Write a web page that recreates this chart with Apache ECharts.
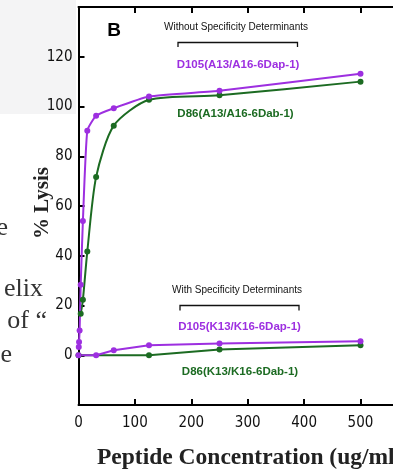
<!DOCTYPE html>
<html><head><meta charset="utf-8">
<script src="https://cdn.jsdelivr.net/npm/echarts@6/dist/echarts.min.js"></script>
<style>html,body{margin:0;padding:0;background:#fff;overflow:hidden}#c{width:393px;height:471px}</style>
</head><body><div id="c"></div>
<script>
// Peptide concentrations (ug/ml) and % lysis values
const concA105 = [0.49, 0.98, 1.95, 3.9, 7.8, 15.6, 31.25, 62.5, 125, 250, 500];
const lysisA105 = [3.3, 5.3, 10, 28.3, 54, 90.3, 96.3, 99.3, 104, 106.3, 113.2];
const concA86 = [3.9, 7.8, 15.6, 31.25, 62.5, 125, 250, 500];
const lysisA86 = [16.7, 22.3, 41.7, 71.7, 92.3, 102.7, 104.5, 110];
const concK105 = [0, 31.25, 62.5, 125, 250, 500];
const lysisK105 = [0, 0, 2, 4, 4.7, 5.6];
const concK86 = [0, 125, 250, 500];
const lysisK86 = [0, 0, 2.3, 4];
const xTicks = [0, 100, 200, 300, 400, 500];
const yTicks = [0, 20, 40, 60, 80, 100, 120];

const purple = '#9d2fe0';
const green = '#1c6b22';
const pairs = (xs, ys) => xs.map((x, i) => [x, ys[i]]);
const tickFont = "'DejaVu Sans Condensed','Liberation Sans Narrow','Liberation Sans',Arial,sans-serif";
const sans = "'Liberation Sans',Arial,sans-serif";
const serif = "'Liberation Serif','Times New Roman',serif";

const chart = echarts.init(document.getElementById('c'), null, {renderer: 'canvas'});
function mkSeries(name, xs, ys, color, smooth) {
  return {
    name, type: 'line', data: pairs(xs, ys), smooth: smooth,
    symbol: 'circle', symbolSize: 6, showSymbol: true,
    lineStyle: {color, width: 2}, itemStyle: {color},
    emphasis: {disabled: true}, animation: false, z: 3
  };
}
const axisCommon = {
  axisLine: {show: true, onZero: false, lineStyle: {color: '#000', width: 2}},
  axisTick: {show: true, inside: true, length: 6, lineStyle: {color: '#000', width: 2}},
  splitLine: {show: false}
};
chart.setOption({
  animation: false,
  grid: {left: 78.5, top: 7, width: 338.4, height: 398, containLabel: false, outerBoundsMode: 'none'},
  xAxis: [
    Object.assign({type: 'value', min: 0, max: 600, interval: 100, position: 'bottom',
      axisLabel: {show: true, margin: 11, color: '#111', fontFamily: tickFont, fontSize: 15,
        formatter: v => xTicks.includes(v) ? String(v) : ''}}, axisCommon),
    Object.assign({type: 'value', min: 0, max: 600, interval: 100, position: 'top',
      axisLabel: {show: false}}, axisCommon)
  ],
  yAxis: Object.assign({type: 'value', min: -20, max: 140, interval: 20,
    axisLabel: {show: true, margin: 6, color: '#111', fontFamily: tickFont, fontSize: 15,
      formatter: v => yTicks.includes(v) ? String(v) : ''}}, axisCommon),
  series: [
    mkSeries('D86(K13/K16-6Dab-1)', concK86, lysisK86, green, false),
    mkSeries('D105(K13/K16-6Dap-1)', concK105, lysisK105, purple, false),
    mkSeries('D86(A13/A16-6Dab-1)', concA86, lysisA86, green, 0.25),
    mkSeries('D105(A13/A16-6Dap-1)', concA105, lysisA105, purple, 0.15)
  ],
  graphic: [
    {type: 'rect', shape: {x: 0, y: 0, width: 76, height: 114}, style: {fill: '#f4f4f5'}, z: -10, silent: true},
    {type: 'text', x: 8, y: 228, style: {text: 'e', font: '26px ' + serif, fill: '#333', align: 'right', verticalAlign: 'middle'}},
    {type: 'text', x: 43, y: 289, style: {text: 'elix', font: '26px ' + serif, fill: '#333', align: 'right', verticalAlign: 'middle'}},
    {type: 'text', x: 47, y: 321, style: {text: 'of \u201c', font: '26px ' + serif, fill: '#333', align: 'right', verticalAlign: 'middle'}},
    {type: 'text', x: 12, y: 355, style: {text: 'e', font: '26px ' + serif, fill: '#333', align: 'right', verticalAlign: 'middle'}},
    {type: 'text', x: 114, y: 31, style: {text: 'B', font: 'bold 19px ' + sans, fill: '#000', align: 'center', verticalAlign: 'middle'}},
    {type: 'text', x: 43, y: 203, rotation: Math.PI / 2, style: {text: '% Lysis', font: 'bold 21px ' + serif, fill: '#222', align: 'center', verticalAlign: 'middle'}},
    {type: 'text', x: 97, y: 458, style: {text: 'Peptide Concentration (ug/ml)', font: 'bold 23.5px ' + serif, fill: '#222', align: 'left', verticalAlign: 'middle'}},
    {type: 'text', x: 236, y: 27, style: {text: 'Without Specificity Determinants', font: '10px ' + sans, fill: '#111', align: 'center', verticalAlign: 'middle'}},
    {type: 'polyline', shape: {points: [[178, 47], [178, 42.5], [297.5, 42.5], [297.5, 47]]}, style: {stroke: '#111', lineWidth: 1.3, fill: null}},
    {type: 'text', x: 238, y: 65, style: {text: 'D105(A13/A16-6Dap-1)', font: 'bold 11.5px ' + sans, fill: purple, align: 'center', verticalAlign: 'middle'}},
    {type: 'text', x: 235.5, y: 114, style: {text: 'D86(A13/A16-6Dab-1)', font: 'bold 11.5px ' + sans, fill: green, align: 'center', verticalAlign: 'middle'}},
    {type: 'text', x: 237, y: 290, style: {text: 'With Specificity Determinants', font: '10px ' + sans, fill: '#111', align: 'center', verticalAlign: 'middle'}},
    {type: 'polyline', shape: {points: [[180, 310.5], [180, 305.5], [299, 305.5], [299, 310.5]]}, style: {stroke: '#111', lineWidth: 1.3, fill: null}},
    {type: 'text', x: 239.5, y: 327, style: {text: 'D105(K13/K16-6Dap-1)', font: 'bold 11.5px ' + sans, fill: purple, align: 'center', verticalAlign: 'middle'}},
    {type: 'text', x: 240, y: 372, style: {text: 'D86(K13/K16-6Dab-1)', font: 'bold 11.5px ' + sans, fill: green, align: 'center', verticalAlign: 'middle'}}
  ]
});
</script></body></html>
